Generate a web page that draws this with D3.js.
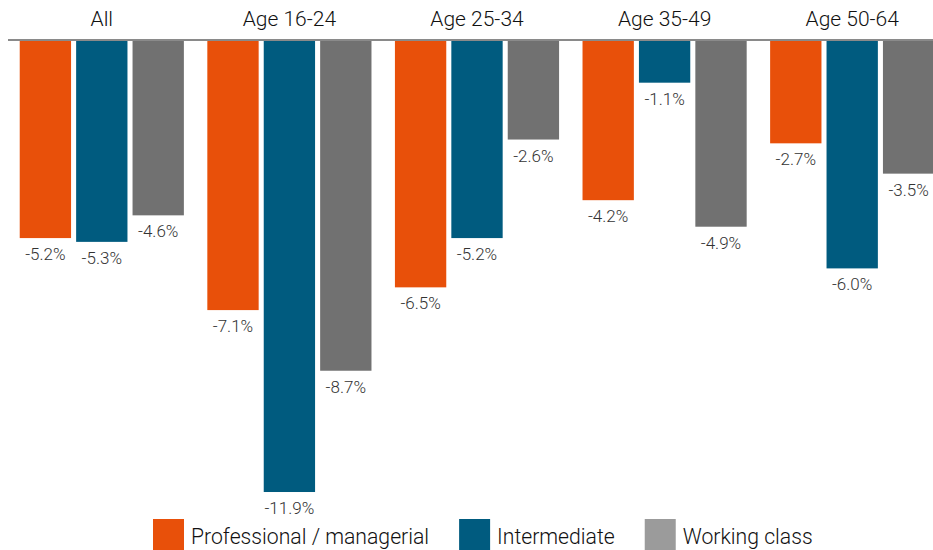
<!DOCTYPE html>
<html>
<head>
<meta charset="utf-8">
<script src="https://cdn.jsdelivr.net/npm/d3@7"></script>
<style>
  html, body { margin: 0; padding: 0; background: #fff; }
  svg { display: block; font-family: Roboto, "Liberation Sans", Arial, sans-serif; font-weight: 300; }
</style>
</head>
<body>
<svg id="chart" width="933" height="550"></svg>
<script>
const categories = ["All", "Age 16-24", "Age 25-34", "Age 35-49", "Age 50-64"];
const seriesNames = ["Professional / managerial", "Intermediate", "Working class"];
const professional = [-5.2, -7.1, -6.5, -4.2, -2.7];
const intermediate = [-5.3, -11.9, -5.2, -1.1, -6.0];
const workingClass = [-4.6, -8.7, -2.6, -4.9, -3.5];
const barColors = ["#e8500a", "#005b7f", "#717171"];
const legendColors = ["#e8500a", "#005b7f", "#9b9b9b"];

const seriesValues = [professional, intermediate, workingClass];
const data = categories.map((c, i) => ({
  category: c,
  values: seriesNames.map((s, j) => ({ series: s, idx: j, value: seriesValues[j][i] }))
}));

const svg = d3.select("#chart");
const W = 933, H = 550;

const x0 = d3.scaleBand().domain(categories).range([8, 946])
  .paddingInner(0.125).paddingOuter(0.0625);
const x1 = d3.scaleBand().domain(seriesNames).range([0, x0.bandwidth()])
  .paddingInner(0.09).paddingOuter(0);
const y = d3.scaleLinear().domain([0, -12]).range([41, 41 + 12 * 37.9]);

const groups = svg.append("g").selectAll("g.grp")
  .data(data).join("g")
  .attr("transform", d => `translate(${x0(d.category)},0)`);

groups.selectAll("rect")
  .data(d => d.values).join("rect")
  .attr("x", d => x1(d.series))
  .attr("y", y(0))
  .attr("width", x1.bandwidth())
  .attr("height", d => y(d.value) - y(0))
  .attr("fill", d => barColors[d.idx]);

groups.selectAll("text.val")
  .data(d => d.values).join("text")
  .attr("class", "val")
  .attr("x", d => x1(d.series) + x1.bandwidth() / 2)
  .attr("y", d => y(d.value) + 22)
  .attr("text-anchor", "middle")
  .attr("font-size", 17)
  .attr("fill", "#333")
  .text(d => d.value.toFixed(1) + "%");

// baseline
svg.append("line")
  .attr("x1", 8).attr("x2", W)
  .attr("y1", y(0) - 1).attr("y2", y(0) - 1)
  .attr("stroke", "#8a8a8a").attr("stroke-width", 2);

// category labels
svg.append("g").selectAll("text")
  .data(categories).join("text")
  .attr("x", d => x0(d) + x0.bandwidth() / 2)
  .attr("y", 26)
  .attr("text-anchor", "middle")
  .attr("font-size", 21)
  .attr("fill", "#111")
  .text(d => d);

// legend
const legend = svg.append("g").attr("class", "legend");
let lx = 153;
seriesNames.forEach((s, j) => {
  const g = legend.append("g").attr("transform", `translate(${lx},519)`);
  g.append("rect").attr("width", 31).attr("height", 31).attr("fill", legendColors[j]);
  const t = g.append("text").attr("x", 38).attr("y", 25)
    .attr("font-size", 21.2).attr("fill", "#111").text(s);
  const w = t.node().getComputedTextLength();
  lx += 38 + w + 30;
});
</script>
</body>
</html>
